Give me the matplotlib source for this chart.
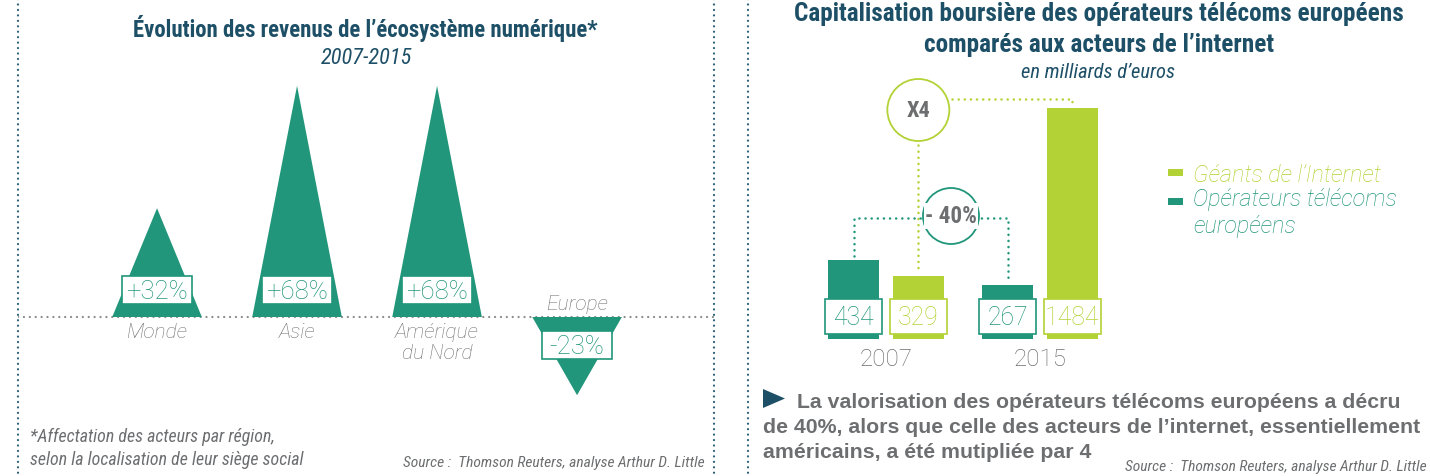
import matplotlib
matplotlib.use('Agg')
import matplotlib.pyplot as plt
from matplotlib import font_manager
from matplotlib.patches import Polygon, Rectangle, Circle
import numpy as np

# ---------------- data ----------------
regions = ['Monde', 'Asie', 'Amérique\ndu Nord', 'Europe']
growth = [32, 68, 68, -23]
growth_labels = ['+32%', '+68%', '+68%', '-23%']

years = ['2007', '2015']
telecoms = [434, 267]
internet = [329, 1484]
series_names = ['Géants de l’Internet', 'Opérateurs télécoms\neuropéens']
telecom_change = '- 40%'
internet_change = 'X4'

title_left = 'Évolution des revenus de l’écosystème numérique*'
subtitle_left = '2007-2015'
title_right = ['Capitalisation boursière des opérateurs télécoms européens',
               'comparés aux acteurs de l’internet']
subtitle_right = 'en milliards d’euros'
footnote = ['*Affectation des acteurs par région,',
            'selon la localisation de leur siège social']
source = 'Source :  Thomson Reuters, analyse Arthur D. Little'
conclusion = ['La valorisation des opérateurs télécoms européens a décru',
              'de 40%, alors que celle des acteurs de l’internet, essentiellement',
              'américains, a été mutipliée par 4']

# ---------------- style ----------------
teal = '#21967a'
lime = '#b3d235'
navy = '#1d4f67'
gray = '#6d6e70'
lgray = '#727272'
border = '#2b5f78'

avail = {f.name for f in font_manager.fontManager.ttflist}
def pick(*names):
    for n in names:
        if n in avail:
            return n
    return 'DejaVu Sans'
COND = pick('Roboto Condensed', 'Liberation Sans Narrow', 'Open Sans Condensed', 'Arial Narrow', 'DejaVu Sans')
LIGHT = pick('Roboto', 'Lato', 'Open Sans', 'Liberation Sans')
SANS = pick('Liberation Sans', 'Roboto', 'DejaVu Sans')

W, H = 1430, 477
fig = plt.figure(figsize=(W / 100, H / 100), dpi=100)
fig.patch.set_facecolor('white')

def rect(x0, y0, x1, y1):
    return [x0 / W, 1 - y1 / H, (x1 - x0) / W, (y1 - y0) / H]

ov = fig.add_axes([0, 0, 1, 1])
ov.set_xlim(0, W)
ov.set_ylim(H, 0)
ov.axis('off')
ov.set_zorder(5)
ov.patch.set_visible(False)

renderer = fig.canvas.get_renderer()

def px(ax, x, y):
    d = ax.transData.transform((x, y))
    return d[0], H - d[1]

def fit(t, width):
    w = t.get_window_extent(renderer).width
    t.set_fontsize(t.get_fontsize() * width / w)
    return t.get_fontsize()

def dotted(ax, xs, ys, color, lw=1.6, gap=2.5, z=2):
    ax.plot(xs, ys, color=color, lw=lw, linestyle=(0, (0.05, gap)),
            dash_capstyle='round', zorder=z)

# borders
for bx in (18, 714, 748):
    dotted(ov, [bx, bx], [0, H], border, lw=1.6, gap=2.4)

# ---------------- left panel ----------------
axL = fig.add_axes(rect(18, 63, 714, 454))
axL.set_xlim(-0.993, 3.978)
axL.set_ylim(-40, 75)
axL.axis('off')
xs = np.arange(len(regions))
hw = 0.32
dotted(axL, [-0.993, 3.978], [0, 0], '#8a8a8a', lw=1.6, gap=2.6, z=1)
for x, v in zip(xs, growth):
    axL.add_patch(Polygon([(x - hw, 0), (x, v), (x + hw, 0)], closed=True,
                          fc=teal, ec='none', zorder=2))

t = ov.text(365, 28, title_left, ha='center', va='center', color=navy,
            family=COND, weight='bold', fontsize=20)
fit(t, 465)
t = ov.text(366, 58, subtitle_left, ha='center', va='center', color=navy,
            family=COND, style='italic', fontsize=14)
fit(t, 92)

fs_reg = None
fs_gl = None
for x, v, name, lab in zip(xs, growth, regions, growth_labels):
    cx, by = px(axL, x, 0)
    if v >= 0:
        t = ov.text(cx, by + 5, name, ha='center', va='top', color=lgray,
                    family=LIGHT, weight='light', style='italic', fontsize=14,
                    linespacing=1.15)
        bcy = by - 27
    else:
        t = ov.text(cx, by - 4, name, ha='center', va='bottom', color=lgray,
                    family=LIGHT, weight='light', style='italic', fontsize=14)
        bcy = by + 28
    if fs_reg is None:
        fs_reg = fit(t, 61)
    t.set_fontsize(fs_reg)
    ov.add_patch(Rectangle((cx - 35, bcy - 14), 70, 28, fc='white', ec=teal, lw=1.2, zorder=3))
    t = ov.text(cx, bcy + 1, lab, ha='center', va='center', color=teal,
                family=LIGHT, weight='light', fontsize=17, zorder=4)
    if fs_gl is None:
        fs_gl = fit(t, 62)
    t.set_fontsize(fs_gl)

fs_note = None
for i, line in enumerate(footnote):
    t = ov.text(30, 437 + 23 * i, line, ha='left', va='center', color=gray,
                family=COND, style='italic', fontsize=12)
    if i == 1:
        fs_note = fit(t, 273)
for tt in ov.texts[-2:]:
    tt.set_fontsize(fs_note)

t = ov.text(403, 463, source, ha='left', va='center', color=gray,
            family=COND, style='italic', fontsize=10)
fs_src = fit(t, 300)

# ---------------- right panel ----------------
axR = fig.add_axes(rect(748, 0, 1430, 477))
axR.set_xlim(-0.896, 3.532)
axR.set_ylim(-1048, 2232)
axR.axis('off')
g = np.arange(len(years))
off, bw, base = 0.21, 0.331, -106
axR.bar(g - off, np.array(telecoms) - base, bottom=base, width=bw, color=teal, zorder=2)
axR.bar(g + off, np.array(internet) - base, bottom=base, width=bw, color=lime, zorder=2)

base_px = px(axR, 0, base)[1]
fs_val = None
for xpos, vals, col in ((g - off, telecoms, teal), (g + off, internet, lime)):
    for x, v in zip(xpos, vals):
        cx, _ = px(axR, x, v)
        cy = base_px - 23
        ov.add_patch(Rectangle((cx - 28.5, cy - 17.5), 57, 35, fc='white', ec=col, lw=1.2, zorder=3))
        t = ov.text(cx, cy + 1, str(v), ha='center', va='center', color=col,
                    family=LIGHT, weight='light', fontsize=17, zorder=4)
        if fs_val is None:
            fs_val = fit(t, 41)
        t.set_fontsize(fs_val)

fs_year = None
for x, y in zip(g, years):
    cx, _ = px(axR, x, 0)
    t = ov.text(cx, base_px + 19, y, ha='center', va='center', color=gray,
                family=LIGHT, weight='light', fontsize=17)
    if fs_year is None:
        fs_year = fit(t, 53)
    t.set_fontsize(fs_year)

# connectors
x07i, top07i = px(axR, g[0] + off, internet[0])
x15i, top15i = px(axR, g[1] + off, internet[1])
x07t, top07t = px(axR, g[0] - off, telecoms[0])
x15t, top15t = px(axR, g[1] - off, telecoms[1])

c4, r4 = (x07i, 111), 31
dotted(ov, [c4[0] + r4 + 3, x15i, x15i], [100, 100, top15i - 4], lime, lw=1.8, gap=2.4)
dotted(ov, [x07i, x07i], [c4[1] + r4 + 4, top07i - 4], lime, lw=1.8, gap=2.4)
ov.add_patch(Circle(c4, r4, fc='white', ec=lime, lw=1.3, zorder=3))
t = ov.text(c4[0], c4[1], internet_change, ha='center', va='center', color=gray,
            family=COND, weight='bold', fontsize=18, zorder=4)
fit(t, 24)

c40, r40 = (951, 217), 28
dotted(ov, [x07t, x07t, x15t, x15t], [top07t - 4, 219, 219, top15t - 4], teal, lw=1.8, gap=2.4)
ov.add_patch(Circle(c40, r40, fc='none', ec=teal, lw=1.3, zorder=3))
t = ov.text(c40[0], c40[1], telecom_change, ha='center', va='center', color=gray,
            family=COND, weight='bold', fontsize=16, zorder=4,
            bbox=dict(boxstyle='square,pad=0.05', fc='white', ec='none'))
fit(t, 52)

# titles
fs_tr = None
for i, line in enumerate(title_right):
    t = ov.text(1099, 14 + 31 * i, line, ha='center', va='center', color=navy,
                family=COND, weight='bold', fontsize=20)
    if i == 0:
        fs_tr = fit(t, 607)
    t.set_fontsize(fs_tr)
t = ov.text(1098, 72, subtitle_right, ha='center', va='center', color=navy,
            family=COND, style='italic', fontsize=13)
fit(t, 153)

# legend
ov.add_patch(Rectangle((1168, 170), 15, 7, fc=lime, ec='none'))
ov.add_patch(Rectangle((1168, 199), 15, 7, fc=teal, ec='none'))
t = ov.text(1193, 176, series_names[0], ha='left', va='center', color=lime,
            family=LIGHT, weight='light', style='italic', fontsize=15)
fs_leg = fit(t, 189)
t = ov.text(1193, 188, series_names[1], ha='left', va='top', color=teal,
            family=LIGHT, weight='light', style='italic', fontsize=fs_leg,
            linespacing=1.2)

# conclusion
ov.add_patch(Polygon([(763, 390), (763, 409), (785, 399.5)], closed=True, fc=navy, ec='none'))
t1 = ov.text(797, 403, conclusion[0], ha='left', va='center', color=gray,
             family=SANS, weight='bold', fontsize=14)
t2 = ov.text(763, 428, conclusion[1], ha='left', va='center', color=gray,
             family=SANS, weight='bold', fontsize=14)
fs_c = fit(t2, 655)
t1.set_fontsize(fs_c)
ov.text(763, 453, conclusion[2], ha='left', va='center', color=gray,
        family=SANS, weight='bold', fontsize=fs_c)

ov.text(1427, 467, source, ha='right', va='center', color=gray,
        family=COND, style='italic', fontsize=fs_src)

fig.savefig('out.png', dpi=100, facecolor='white')
